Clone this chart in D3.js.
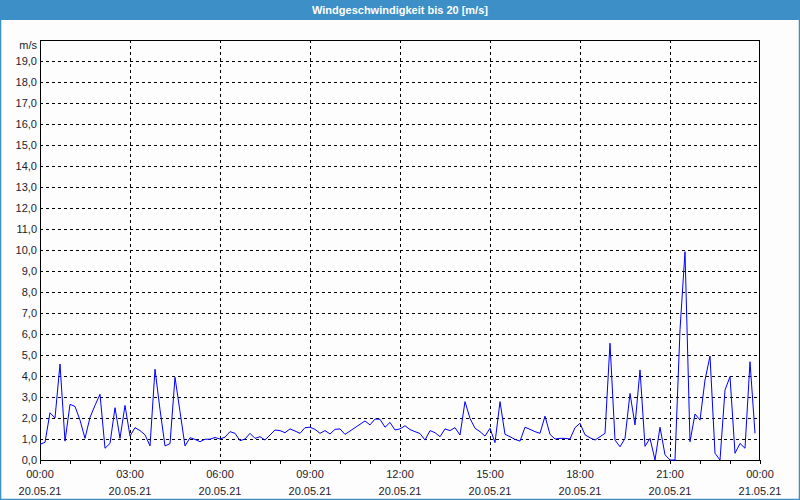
<!DOCTYPE html>
<html><head><meta charset="utf-8">
<script src="https://cdn.jsdelivr.net/npm/d3@7"></script>
<style>
html,body{margin:0;padding:0;background:#fcfdfc;}
svg{display:block;}
</style></head>
<body>
<svg id="chart" width="800" height="500"></svg>
<script>
const title = "Windgeschwindigkeit bis 20 [m/s]";
const unitLabel = "m/s";
const startTime = "2021-05-20T00:00:00";
const endTime = "2021-05-21T00:00:00";
const stepMinutes = 10;
const windSpeed = [
 0.75,0.84,2.25,2.0,4.57,0.9,2.65,2.55,1.9,1.03,2.03,2.6,3.13,0.56,0.79,2.49,1.03,2.6,1.14,1.54,
 1.4,1.2,0.67,4.32,2.4,0.67,0.78,3.94,2.3,0.67,1.06,0.98,0.87,0.99,0.99,1.07,1.0,1.09,1.35,1.27,
 0.92,1.0,1.27,1.03,1.11,0.95,1.19,1.43,1.40,1.30,1.48,1.38,1.27,1.54,1.56,1.46,1.27,1.40,1.24,1.46,
 1.48,1.22,1.38,1.54,1.70,1.86,1.67,1.95,1.94,1.56,1.79,1.43,1.48,1.63,1.45,1.35,1.26,0.95,1.40,1.30,
 1.11,1.48,1.40,1.54,1.19,2.78,1.98,1.51,1.35,1.14,1.51,0.83,2.78,1.22,1.11,0.98,0.90,1.56,1.46,1.35,
 1.27,2.09,1.22,1.0,1.03,1.03,1.0,1.54,1.75,1.2,1.06,0.95,1.11,1.27,5.56,0.95,0.63,1.03,3.17,1.67,
 4.29,0.65,1.03,0.0,1.56,0.25,0.0,0.0,6.2,9.92,0.87,2.19,1.90,3.81,4.95,0.32,0.0,3.33,3.97,0.32,
 0.79,0.56,4.68,1.27
];
const yTicks = d3.range(0, 20, 1);

const svg = d3.select("#chart");
const W = 800, H = 500;
const m = {left:40, right:40, top:40, bottom:40};
const blue = "#3c90c7";
const textCol = "#1c1c2e";

// outer frame
svg.append("rect").attr("x",0).attr("y",0).attr("width",W).attr("height",H).attr("fill","#fcfdfc");
svg.append("rect").attr("x",0).attr("y",0).attr("width",W).attr("height",20).attr("fill",blue);
svg.append("rect").attr("x",0.5).attr("y",0.5).attr("width",W-1).attr("height",H-1)
  .attr("fill","none").attr("stroke",blue).attr("stroke-width",1.5);
svg.append("text").attr("x",W/2).attr("y",14).attr("text-anchor","middle")
  .attr("fill","#ffffff").attr("font-family","Liberation Sans, Arial, sans-serif")
  .attr("font-size","11px").attr("font-weight","bold").text(title);

const parse = d3.timeParse("%Y-%m-%dT%H:%M:%S");
const t0 = parse(startTime), t1 = parse(endTime);
const data = windSpeed.map((v,i)=>({t:new Date(+t0 + i*stepMinutes*60000), v}));

const x = d3.scaleTime().domain([t0,t1]).range([m.left, W-m.right]);
const y = d3.scaleLinear().domain([0,20]).range([H-m.bottom, m.top]);

const font = "Liberation Sans, Arial, sans-serif";

// horizontal grid
svg.append("g").selectAll("line").data(yTicks.filter(d=>d>0)).join("line")
  .attr("x1",m.left).attr("x2",W-m.right)
  .attr("y1",d=>Math.round(y(d))+0.5).attr("y2",d=>Math.round(y(d))+0.5)
  .attr("stroke","#000").attr("stroke-dasharray","3,3");

// vertical grid every 3h
const majors = d3.timeHour.every(3).range(t0, t1).filter(d=>+d>+t0);
svg.append("g").selectAll("line").data(majors).join("line")
  .attr("x1",d=>Math.round(x(d))+0.5).attr("x2",d=>Math.round(x(d))+0.5)
  .attr("y1",m.top).attr("y2",H-m.bottom+6)
  .attr("stroke","#000").attr("stroke-dasharray","3,3");

// hourly ticks
const xAxis = d3.axisBottom(x).ticks(d3.timeHour.every(1)).tickSize(4).tickFormat("");
const gx = svg.append("g").attr("transform",`translate(0,${H-m.bottom})`).call(xAxis);
gx.select(".domain").remove();
gx.selectAll("line").attr("stroke","#000");

// x labels
const labTimes = d3.timeHour.every(3).range(t0, d3.timeMinute.offset(t1,1));
const fmtT = d3.timeFormat("%H:%M"), fmtD = d3.timeFormat("%d.%m.%y");
const lg = svg.append("g").attr("font-family",font).attr("font-size","11px").attr("fill",textCol).attr("text-anchor","middle");
lg.selectAll("text.t").data(labTimes).join("text").attr("class","t")
  .attr("x",d=>x(d)).attr("y",478).text(fmtT);
lg.selectAll("text.d").data(labTimes).join("text").attr("class","d")
  .attr("x",d=>x(d)).attr("y",495).text(fmtD);

// y labels
const fmtY = v => d3.format(".1f")(v).replace(".", ",");
svg.append("g").attr("font-family",font).attr("font-size","11px").attr("fill",textCol).attr("text-anchor","end")
  .selectAll("text").data(yTicks).join("text")
  .attr("x",37).attr("y",d=>y(d)+4).text(fmtY);
svg.append("text").attr("x",37).attr("y",49).attr("text-anchor","end")
  .attr("font-family",font).attr("font-size","11px").attr("fill",textCol).text(unitLabel);

// plot frame
svg.append("rect").attr("x",m.left+0.5).attr("y",m.top+0.5)
  .attr("width",W-m.left-m.right-1).attr("height",H-m.top-m.bottom)
  .attr("fill","none").attr("stroke","#000").attr("stroke-width",1);

// data line
const line = d3.line().x(d=>x(d.t)).y(d=>y(d.v));
svg.append("path").datum(data).attr("d",line).attr("fill","none")
  .attr("stroke","#0000ff").attr("stroke-width",1);
</script>
</body></html>
